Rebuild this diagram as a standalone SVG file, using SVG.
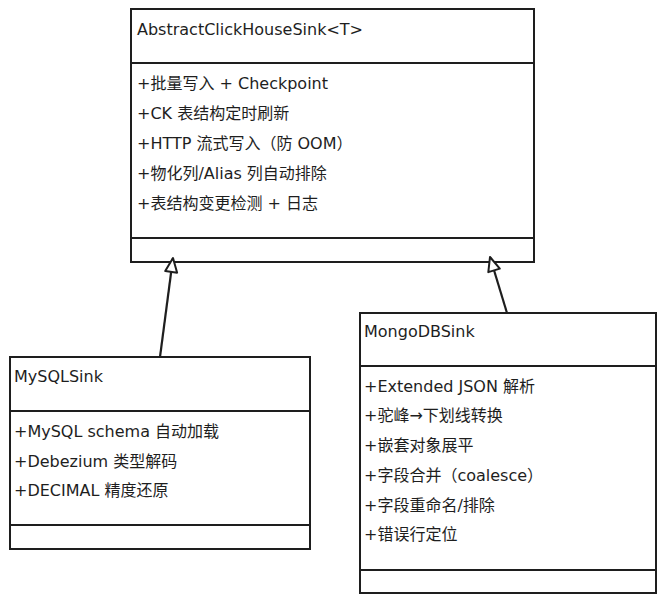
<svg xmlns="http://www.w3.org/2000/svg" width="662" height="604" viewBox="0 0 662 604">
<style>
.box{fill:#ffffff;stroke:#1e1e1e;stroke-width:2}
.div{stroke:#1e1e1e;stroke-width:1.8;fill:none}
.t{font-family:"DejaVu Sans","Noto Sans CJK SC",sans-serif;font-size:16px;fill:#1e1e1e}
.edge{stroke:#1e1e1e;stroke-width:2.2;fill:none}
</style>
<defs>
<marker id="tri" markerUnits="userSpaceOnUse" viewBox="-2 -2 18 16" refX="14" refY="6" markerWidth="18" markerHeight="16" orient="auto">
<path d="M0,0 L14,6 L0,12 Z" fill="#ffffff" stroke="#1e1e1e" stroke-width="2" stroke-linejoin="round"/>
</marker>
</defs>
<rect width="662" height="604" fill="#ffffff"/>
<g id="abstract">
<rect class="box" x="131" y="9" width="403" height="253"/>
<line class="div" x1="131" y1="63" x2="534" y2="63"/>
<line class="div" x1="131" y1="238" x2="534" y2="238"/>
<text class="t" x="137" y="35">AbstractClickHouseSink&lt;T&gt;</text>
<text class="t" x="137" y="89">+批量写入 + Checkpoint</text>
<text class="t" x="137" y="119">+CK 表结构定时刷新</text>
<text class="t" x="137" y="149">+HTTP 流式写入（防 OOM）</text>
<text class="t" x="137" y="179">+物化列/Alias 列自动排除</text>
<text class="t" x="137" y="209">+表结构变更检测 + 日志</text>
</g>
<g id="mysql">
<rect class="box" x="10" y="357" width="300" height="192"/>
<line class="div" x1="10" y1="411" x2="310" y2="411"/>
<line class="div" x1="10" y1="525" x2="310" y2="525"/>
<text class="t" x="14" y="382">MySQLSink</text>
<text class="t" x="14" y="437">+MySQL schema 自动加载</text>
<text class="t" x="14" y="467">+Debezium 类型解码</text>
<text class="t" x="14" y="496">+DECIMAL 精度还原</text>
</g>
<g id="mongo">
<rect class="box" x="360" y="313" width="296" height="280"/>
<line class="div" x1="360" y1="366" x2="656" y2="366"/>
<line class="div" x1="360" y1="570" x2="656" y2="570"/>
<text class="t" x="364" y="337">MongoDBSink</text>
<text class="t" x="364" y="392">+Extended JSON 解析</text>
<text class="t" x="364" y="421">+驼峰→下划线转换</text>
<text class="t" x="364" y="451">+嵌套对象展平</text>
<text class="t" x="364" y="481">+字段合并（coalesce）</text>
<text class="t" x="364" y="511">+字段重命名/排除</text>
<text class="t" x="364" y="540">+错误行定位</text>
</g>
<g id="connectors">
<line class="edge" x1="160" y1="357" x2="173" y2="258" marker-end="url(#tri)"/>
<line class="edge" x1="507" y1="313" x2="490" y2="257" marker-end="url(#tri)"/>
</g>
</svg>
